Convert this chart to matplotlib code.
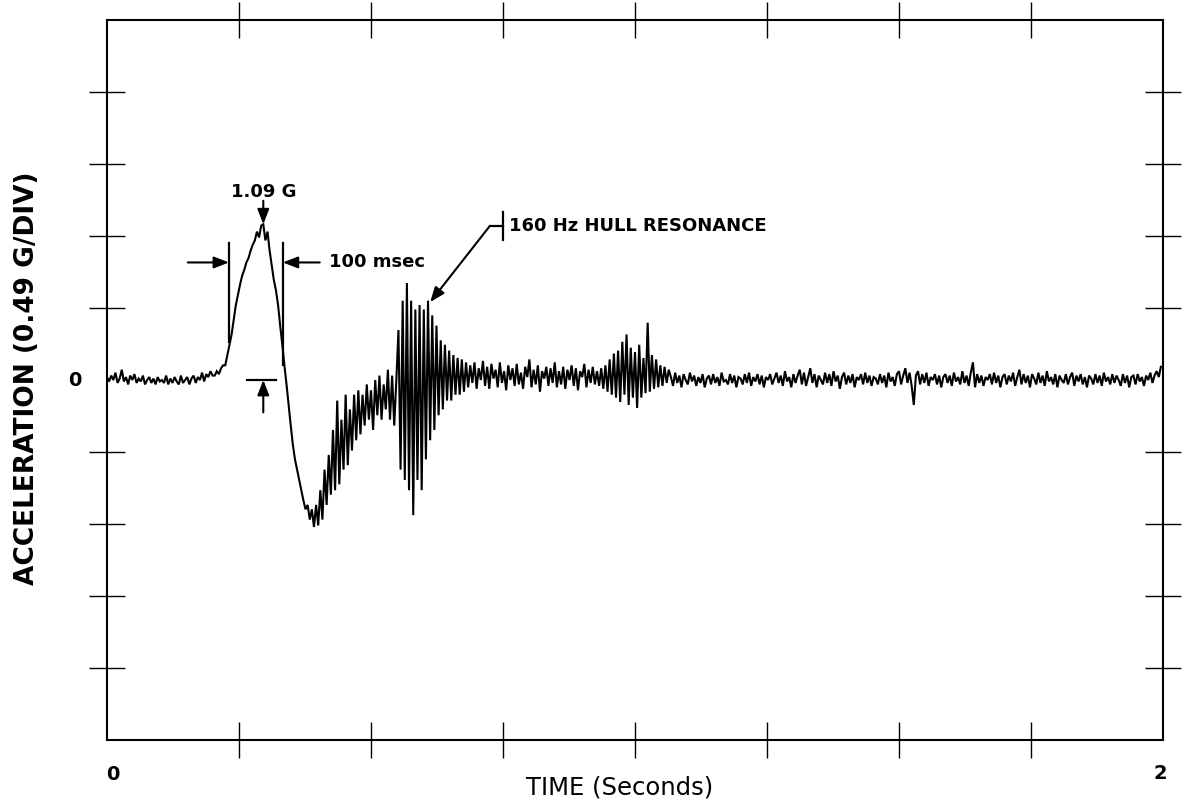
import numpy as np
import matplotlib
matplotlib.use("Agg")
import matplotlib.pyplot as plt

# ---------------- data (acceleration in G, sampled every 4 ms) ----------------
SAMPLE_INTERVAL = 0.004  # s

pre_impact = [
    0.02, -0.01, 0.03, 0.00, 0.05, -0.02, 0.01, 0.07, -0.01, 0.02,
    -0.03, 0.03, 0.00, 0.04, -0.02, 0.01, -0.01, 0.03, -0.03, 0.00,
    0.02, -0.02, 0.01, -0.03, 0.02, -0.01, 0.00, -0.02, 0.03, -0.03,
    0.01, -0.02, 0.02, -0.01, -0.03, 0.03, -0.02, 0.00, 0.02, -0.03,
    0.01, 0.03, -0.02, 0.02, 0.00, 0.05, -0.01, 0.04, 0.02, 0.06,
    0.03,
]

impact_pulse = [
    0.03, 0.06, 0.04, 0.08, 0.10, 0.10, 0.17, 0.24, 0.31, 0.41,
    0.51, 0.58, 0.65, 0.71, 0.75, 0.80, 0.83, 0.88, 0.92, 0.95,
    1.01, 0.97, 1.05, 1.06, 0.95, 1.01, 0.88, 0.78, 0.68, 0.61,
    0.51, 0.37, 0.24, 0.10, -0.03, -0.17, -0.31, -0.44, -0.54, -0.61,
    -0.68, -0.75, -0.82, -0.88, -0.85, -0.95, -0.88, -1.00, -0.85, -0.99,
]

trough_recovery = [
    -0.75, -0.95, -0.61, -0.85, -0.51, -0.78, -0.34, -0.75, -0.14, -0.71,
    -0.27, -0.61, -0.10, -0.58, -0.20, -0.48, -0.10, -0.41, -0.07, -0.37,
    -0.10, -0.31, -0.03, -0.27, -0.07, -0.34, 0.00, -0.24, 0.03, -0.27,
    -0.03, -0.20, 0.07, -0.27, 0.03, -0.31, 0.00,
]

hull_resonance = [
    0.34, -0.61, 0.54, -0.68, 0.66, -0.75, 0.54, -0.92, 0.48, -0.68,
    0.51, -0.75, 0.48, -0.54, 0.54, -0.41, 0.44, -0.34, 0.37, -0.24,
    0.27, -0.20, 0.24, -0.14, 0.20, -0.14, 0.17, -0.10, 0.15, -0.10,
    0.14, -0.08, 0.12,
]

post_resonance = [
    -0.05, 0.10, -0.02, 0.12, -0.06, 0.08, 0.00, 0.13, -0.04, 0.09,
    -0.06, 0.11, 0.01, 0.07, -0.05, 0.12, -0.02, 0.06, -0.07, 0.10,
    0.00, 0.08, -0.04, 0.11, -0.03, 0.05, -0.06, 0.09, 0.02, 0.14,
    -0.05, 0.07, -0.03, 0.10, -0.08, 0.06, 0.01, 0.09, -0.04, 0.08,
    -0.02, 0.12, -0.05, 0.06, -0.03, 0.09, -0.06, 0.07, 0.00, 0.10,
    -0.04, 0.08, -0.07, 0.06, 0.02, 0.11, -0.05, 0.07, -0.02, 0.09,
]

secondary_burst = [
    -0.03, 0.06, -0.04, 0.08, -0.06, 0.10, -0.08, 0.14, -0.10, 0.18,
    -0.12, 0.20, -0.15, 0.26, -0.10, 0.31, -0.17, 0.22, -0.12, 0.19,
    -0.19, 0.24, -0.12, 0.15, -0.09, 0.39, -0.08, 0.17, -0.06, 0.14,
    -0.05, 0.10, -0.04, 0.09, -0.02, 0.07,
]

tail = [
    0.02, -0.04, 0.05, -0.02, 0.03, -0.05, 0.04, 0.00, -0.03, 0.05,
    -0.01, 0.03, -0.04, 0.02, -0.02, 0.04, -0.05, 0.01, 0.03, -0.03,
    0.04, -0.02, 0.02, -0.04, 0.05, -0.01, 0.00, -0.03, 0.04, -0.02,
    0.03, -0.05, 0.02, 0.01, -0.03, 0.04, -0.02, 0.05, -0.04, 0.02,
    -0.01, 0.04, -0.03, 0.03, -0.05, 0.02, 0.00, 0.04, -0.03, 0.01,
    0.05, -0.02, 0.03, -0.04, 0.06, -0.01, 0.02, -0.05, 0.04, -0.02,
    0.03, 0.07, -0.03, 0.05, -0.04, 0.02, 0.08, -0.02, 0.04, -0.05,
    0.03, 0.00, -0.03, 0.05, -0.02, 0.04, -0.04, 0.06, -0.01, 0.03,
    -0.06, 0.02, 0.05, -0.03, 0.03, -0.02, 0.04, -0.05, 0.02, 0.00,
    0.04, -0.03, 0.05, -0.02, 0.03, -0.04, 0.02, 0.01, -0.03, 0.04,
    -0.02, 0.03, -0.05, 0.05, -0.01, 0.02, -0.04, 0.04, 0.06, -0.03,
    0.03, 0.08, -0.02, 0.05, -0.04, -0.17, 0.03, 0.06, -0.03, 0.04,
    -0.02, 0.05, -0.04, 0.02, 0.00, 0.04, -0.03, 0.03, -0.05, 0.02,
    0.04, -0.02, 0.03, -0.04, 0.05, -0.01, 0.02, -0.03, 0.06, -0.02,
    0.03, -0.04, 0.05, 0.12, -0.05, 0.04, -0.02, 0.03, -0.04, 0.02,
    0.00, 0.04, -0.03, 0.05, -0.02, 0.03, -0.05, 0.02, 0.04, -0.03,
    0.03, -0.01, 0.05, -0.04, 0.02, 0.07, -0.03, 0.04, -0.02, 0.03,
    -0.05, 0.04, 0.01, -0.03, 0.05, -0.02, 0.03, -0.04, 0.06, -0.01,
    0.02, -0.03, 0.04, -0.05, 0.03, 0.00, -0.02, 0.04, -0.03, 0.02,
    0.05, -0.04, 0.03, -0.01, 0.04, -0.03, 0.02, -0.05, 0.03, 0.01,
    -0.03, 0.04, -0.02, 0.03, -0.04, 0.05, -0.01, 0.02, -0.03, 0.04,
    -0.02, 0.03, 0.00, -0.04, 0.04, -0.02, 0.03, -0.05, 0.02, 0.03,
    -0.03, 0.04, -0.01, 0.02, -0.04, 0.03, 0.00, 0.05, -0.02, 0.03,
    0.06, 0.02, 0.09,
]

G_PER_DIV = 0.49
x_tick_values = [0.25, 0.5, 0.75, 1.0, 1.25, 1.5, 1.75]
y_tick_divs = [-4, -3, -2, -1, 1, 2, 3, 4]

# ---------------- build series ----------------
accel = np.array(pre_impact + impact_pulse + trough_recovery + hull_resonance
                 + post_resonance + secondary_burst + tail)
time = np.arange(len(accel)) * SAMPLE_INTERVAL

# ---------------- figure ----------------
plt.rcParams['font.family'] = ['DejaVu Sans']
fig = plt.figure(figsize=(11.82, 8.02), dpi=100)
ax = fig.add_axes([107 / 1182, 1 - 740 / 802, 1056 / 1182, 720 / 802])

ax.plot(time, accel, color='black', linewidth=1.5, solid_joinstyle='miter')

ax.set_xlim(0, 2)
ax.set_ylim(-5 * G_PER_DIV, 5 * G_PER_DIV)
ax.set_xticks(x_tick_values)
ax.set_yticks([d * G_PER_DIV for d in y_tick_divs])
ax.set_xticklabels([])
ax.set_yticklabels([])
ax.tick_params(direction='inout', length=26, width=1.0, color='black',
               top=True, right=True, bottom=True, left=True)
for s in ax.spines.values():
    s.set_linewidth(1.5)
    s.set_color('black')

# axis labels
lbl_font = dict(fontsize=14, fontweight='bold')
ax.annotate('0', xy=(0, 0), xycoords=('data', 'axes fraction'),
            xytext=(4, -25), textcoords='offset points',
            ha='center', va='center', **lbl_font)
ax.annotate('2', xy=(2, 0), xycoords=('data', 'axes fraction'),
            xytext=(-2, -24), textcoords='offset points',
            ha='center', va='center', **lbl_font)
ax.annotate('0', xy=(0, 0), xycoords=('axes fraction', 'data'),
            xytext=(-23, 0), textcoords='offset points',
            ha='center', va='center', **lbl_font)
fig.text(620 / 1182, 1 - 788 / 802, 'TIME (Seconds)', ha='center', va='center',
         fontsize=17.5)
fig.text(27 / 1182, 1 - 378 / 802, 'ACCELERATION (0.49 G/DIV)', ha='center',
         va='center', rotation=90, fontsize=19, fontweight='bold')

# ---------------- annotations ----------------
ann_font = dict(fontsize=13, fontweight='bold')
arrow_kw = dict(arrowstyle='-|>,head_length=0.9,head_width=0.35',
                color='black', lw=1.5, shrinkA=0, shrinkB=0)

peak_idx = int(np.argmax(accel))
peak_t, peak_g = time[peak_idx], accel[peak_idx]

# 1.09 G peak marker
ax.annotate('', xy=(peak_t, peak_g), xytext=(peak_t, peak_g + 0.16),
            arrowprops=arrow_kw)
ax.text(peak_t, peak_g + 0.22, '1.09 G', ha='center', va='center', **ann_font)

# 100 msec width bracket
left_t, right_t = 0.231, 0.333
ax.plot([left_t, left_t], [0.26, 0.93], color='black', lw=1.6)
ax.plot([right_t, right_t], [0.10, 0.93], color='black', lw=1.6)
ax.annotate('', xy=(left_t, 0.80), xytext=(left_t - 0.078, 0.80),
            arrowprops=arrow_kw)
ax.annotate('', xy=(right_t, 0.80), xytext=(right_t + 0.07, 0.80),
            arrowprops=arrow_kw)
ax.text(0.42, 0.80, '100 msec', ha='left', va='center', **ann_font)

# zero reference marker under peak
ax.plot([peak_t - 0.03, peak_t + 0.024], [0.0, 0.0], color='black', lw=1.6)
ax.annotate('', xy=(peak_t, 0.0), xytext=(peak_t, -0.22), arrowprops=arrow_kw)

# 160 Hz hull resonance leader
ax.plot([0.75, 0.75], [0.95, 1.14], color='black', lw=1.6)
ax.plot([0.725, 0.75], [1.048, 1.048], color='black', lw=1.6)
ax.annotate('', xy=(0.612, 0.53), xytext=(0.725, 1.048), arrowprops=arrow_kw)
ax.text(0.762, 1.048, '160 Hz HULL RESONANCE', ha='left', va='center', **ann_font)

fig.savefig('out.png', dpi=100, facecolor='white')
